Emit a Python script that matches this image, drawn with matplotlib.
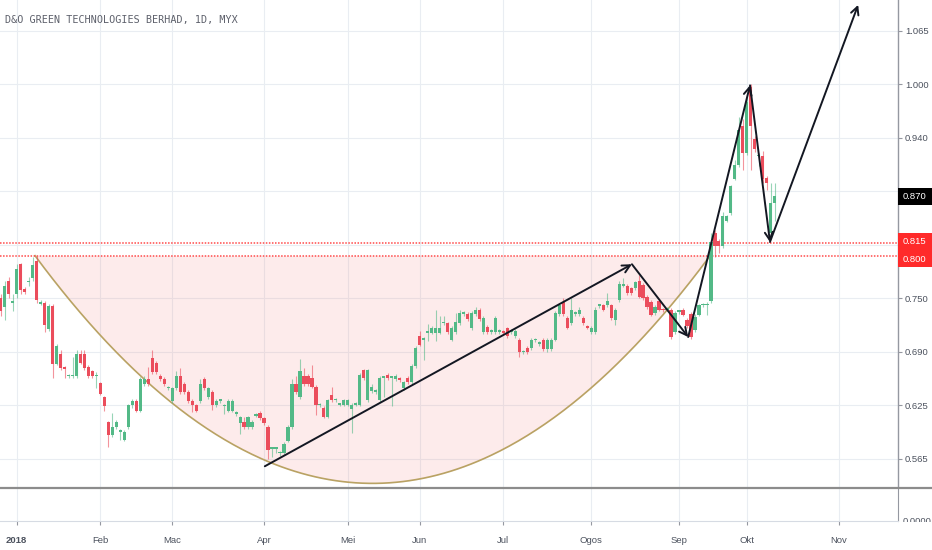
import numpy as np
import matplotlib
matplotlib.use("Agg")
import matplotlib.pyplot as plt
from matplotlib import font_manager
from matplotlib.patches import Rectangle
from matplotlib.lines import Line2D

# daily candles, Dec 2017 .. Oct 2018
opens = [0.750, 0.740, 0.770, 0.745, 0.755, 0.790, 0.761, 0.769, 0.774, 0.794,
         0.744, 0.745, 0.714, 0.741, 0.674, 0.685, 0.669, 0.659, 0.659, 0.659,
         0.685, 0.685, 0.670, 0.665, 0.659, 0.651, 0.635, 0.606, 0.590, 0.600,
         0.594, 0.585, 0.600, 0.625, 0.630, 0.619, 0.650, 0.656, 0.680, 0.675,
         0.660, 0.656, 0.645, 0.630, 0.645, 0.660, 0.650, 0.641, 0.630, 0.625,
         0.630, 0.656, 0.635, 0.641, 0.625, 0.630, 0.624, 0.619, 0.619, 0.615,
         0.604, 0.606, 0.600, 0.600, 0.613, 0.616, 0.610, 0.600, 0.574, 0.574,
         0.569, 0.570, 0.584, 0.600, 0.650, 0.635, 0.660, 0.660, 0.657, 0.647,
         0.625, 0.622, 0.612, 0.637, 0.631, 0.626, 0.626, 0.626, 0.621, 0.626,
         0.626, 0.666, 0.631, 0.642, 0.641, 0.631, 0.657, 0.661, 0.657, 0.656,
         0.656, 0.645, 0.657, 0.652, 0.671, 0.706, 0.702, 0.710, 0.710, 0.710,
         0.710, 0.721, 0.721, 0.702, 0.711, 0.721, 0.732, 0.732, 0.715, 0.732,
         0.737, 0.711, 0.717, 0.711, 0.711, 0.711, 0.711, 0.715, 0.711, 0.706,
         0.702, 0.687, 0.692, 0.692, 0.701, 0.697, 0.702, 0.691, 0.691, 0.702,
         0.732, 0.746, 0.727, 0.721, 0.732, 0.732, 0.727, 0.717, 0.711, 0.711,
         0.741, 0.742, 0.742, 0.742, 0.725, 0.748, 0.765, 0.765, 0.762, 0.762,
         0.771, 0.766, 0.752, 0.746, 0.733, 0.747, 0.737, 0.737, 0.737, 0.711,
         0.734, 0.737, 0.725, 0.732, 0.713, 0.731, 0.742, 0.742, 0.747, 0.826,
         0.817, 0.811, 0.841, 0.850, 0.890, 0.906, 0.952, 0.920, 0.997, 0.936,
         0.916, 0.916, 0.891, 0.826, 0.861]
highs = [0.755, 0.770, 0.775, 0.755, 0.790, 0.792, 0.764, 0.775, 0.799, 0.800,
         0.748, 0.747, 0.743, 0.743, 0.697, 0.690, 0.671, 0.662, 0.682, 0.690,
         0.690, 0.690, 0.672, 0.667, 0.664, 0.653, 0.636, 0.607, 0.616, 0.608,
         0.597, 0.596, 0.627, 0.632, 0.632, 0.658, 0.660, 0.670, 0.690, 0.677,
         0.662, 0.658, 0.648, 0.647, 0.665, 0.669, 0.652, 0.643, 0.632, 0.627,
         0.656, 0.658, 0.647, 0.643, 0.632, 0.633, 0.627, 0.632, 0.632, 0.618,
         0.613, 0.611, 0.613, 0.608, 0.616, 0.618, 0.612, 0.602, 0.577, 0.577,
         0.572, 0.582, 0.602, 0.656, 0.660, 0.679, 0.669, 0.662, 0.672, 0.649,
         0.628, 0.624, 0.633, 0.647, 0.634, 0.628, 0.633, 0.633, 0.628, 0.629,
         0.663, 0.668, 0.668, 0.650, 0.644, 0.659, 0.660, 0.663, 0.660, 0.662,
         0.658, 0.654, 0.659, 0.673, 0.694, 0.712, 0.705, 0.720, 0.718, 0.737,
         0.730, 0.730, 0.723, 0.718, 0.733, 0.737, 0.735, 0.734, 0.735, 0.740,
         0.739, 0.729, 0.719, 0.714, 0.729, 0.714, 0.713, 0.717, 0.714, 0.714,
         0.704, 0.690, 0.694, 0.704, 0.704, 0.700, 0.704, 0.704, 0.704, 0.735,
         0.744, 0.750, 0.729, 0.750, 0.735, 0.740, 0.729, 0.719, 0.718, 0.740,
         0.744, 0.744, 0.756, 0.744, 0.739, 0.770, 0.774, 0.767, 0.764, 0.771,
         0.777, 0.768, 0.754, 0.748, 0.742, 0.749, 0.739, 0.740, 0.739, 0.735,
         0.737, 0.739, 0.727, 0.734, 0.732, 0.744, 0.745, 0.746, 0.826, 0.830,
         0.819, 0.851, 0.848, 0.883, 0.912, 0.962, 0.960, 0.985, 1.001, 0.940,
         0.920, 0.922, 0.893, 0.885, 0.885]
lows = [0.730, 0.725, 0.750, 0.735, 0.750, 0.755, 0.755, 0.765, 0.770, 0.745,
        0.742, 0.711, 0.712, 0.657, 0.672, 0.667, 0.657, 0.657, 0.657, 0.657,
        0.673, 0.667, 0.657, 0.657, 0.646, 0.637, 0.618, 0.577, 0.588, 0.598,
        0.585, 0.583, 0.598, 0.622, 0.617, 0.617, 0.648, 0.648, 0.662, 0.662,
        0.654, 0.648, 0.643, 0.628, 0.643, 0.639, 0.639, 0.628, 0.617, 0.617,
        0.628, 0.643, 0.633, 0.620, 0.623, 0.628, 0.615, 0.617, 0.617, 0.613,
        0.592, 0.598, 0.598, 0.598, 0.611, 0.608, 0.602, 0.562, 0.565, 0.570,
        0.566, 0.568, 0.582, 0.598, 0.639, 0.633, 0.648, 0.648, 0.645, 0.614,
        0.623, 0.610, 0.610, 0.629, 0.629, 0.624, 0.624, 0.624, 0.593, 0.624,
        0.624, 0.655, 0.629, 0.640, 0.639, 0.629, 0.635, 0.655, 0.624, 0.654,
        0.653, 0.643, 0.650, 0.650, 0.669, 0.694, 0.678, 0.700, 0.708, 0.700,
        0.708, 0.719, 0.709, 0.700, 0.709, 0.719, 0.730, 0.724, 0.713, 0.730,
        0.724, 0.709, 0.709, 0.709, 0.709, 0.709, 0.708, 0.704, 0.709, 0.704,
        0.682, 0.685, 0.685, 0.690, 0.699, 0.695, 0.689, 0.688, 0.689, 0.700,
        0.730, 0.730, 0.714, 0.719, 0.730, 0.730, 0.719, 0.714, 0.709, 0.709,
        0.739, 0.735, 0.740, 0.725, 0.719, 0.746, 0.763, 0.754, 0.754, 0.760,
        0.750, 0.748, 0.738, 0.729, 0.731, 0.735, 0.734, 0.735, 0.703, 0.709,
        0.732, 0.729, 0.715, 0.703, 0.711, 0.729, 0.740, 0.731, 0.745, 0.799,
        0.803, 0.809, 0.839, 0.848, 0.888, 0.904, 0.900, 0.918, 0.900, 0.921,
        0.905, 0.885, 0.877, 0.822, 0.840]
closes = [0.735, 0.765, 0.755, 0.746, 0.785, 0.760, 0.758, 0.771, 0.789, 0.748,
          0.746, 0.719, 0.741, 0.674, 0.695, 0.669, 0.668, 0.661, 0.661, 0.685,
          0.675, 0.669, 0.659, 0.659, 0.660, 0.639, 0.624, 0.590, 0.600, 0.606,
          0.595, 0.594, 0.625, 0.630, 0.619, 0.656, 0.656, 0.650, 0.664, 0.664,
          0.656, 0.650, 0.646, 0.645, 0.660, 0.641, 0.641, 0.630, 0.625, 0.619,
          0.650, 0.645, 0.645, 0.625, 0.630, 0.631, 0.625, 0.630, 0.630, 0.616,
          0.611, 0.600, 0.611, 0.606, 0.614, 0.610, 0.604, 0.573, 0.575, 0.575,
          0.570, 0.580, 0.600, 0.650, 0.641, 0.665, 0.650, 0.650, 0.647, 0.626,
          0.626, 0.612, 0.631, 0.631, 0.632, 0.627, 0.631, 0.631, 0.626, 0.627,
          0.661, 0.657, 0.666, 0.647, 0.642, 0.657, 0.658, 0.657, 0.658, 0.660,
          0.655, 0.652, 0.652, 0.671, 0.692, 0.696, 0.703, 0.711, 0.716, 0.716,
          0.716, 0.722, 0.711, 0.716, 0.722, 0.733, 0.733, 0.726, 0.733, 0.737,
          0.726, 0.727, 0.711, 0.712, 0.727, 0.712, 0.710, 0.706, 0.712, 0.712,
          0.687, 0.688, 0.687, 0.702, 0.702, 0.698, 0.691, 0.702, 0.702, 0.733,
          0.742, 0.732, 0.716, 0.737, 0.733, 0.737, 0.721, 0.716, 0.716, 0.737,
          0.742, 0.737, 0.747, 0.727, 0.737, 0.767, 0.767, 0.756, 0.756, 0.769,
          0.752, 0.750, 0.740, 0.731, 0.740, 0.737, 0.736, 0.738, 0.705, 0.733,
          0.735, 0.731, 0.718, 0.705, 0.728, 0.742, 0.743, 0.743, 0.816, 0.811,
          0.811, 0.846, 0.846, 0.881, 0.906, 0.947, 0.920, 0.980, 0.951, 0.925,
          0.917, 0.890, 0.885, 0.861, 0.870]

month_labels = ["2018", "Feb", "Mac", "Apr", "Mei", "Jun", "Jul", "Ogos", "Sep", "Okt", "Nov"]
month_start_bar = [4, 25, 43, 66, 87, 105, 126, 148, 170, 187, 210]

price_ticks = [0.5625, 0.625, 0.6875, 0.75, 0.8125, 0.875, 0.9375, 1.0, 1.0625]
price_tick_labels = ["0.565", "0.625", "0.690", "0.750", "", "", "0.940", "1.000", "1.065"]

level_lines = [0.815, 0.800]
level_labels = ["0.815", "0.800"]
last_label = "0.870"

# cup drawing: two rim anchors and the depth of the arc
arc_left = (8.6, 0.800)
arc_right = (177.8, 0.800)
arc_bottom = 0.534

# drawn arrow path (bar, price)
arrow_path = [(66.2, 0.554), (158.2, 0.790), (172.3, 0.705),
              (187.8, 0.999), (192.8, 0.816), (214.9, 1.093)]

title = "D&O GREEN TECHNOLOGIES BERHAD, 1D, MYX"

names = {f.name for f in font_manager.fontManager.ttflist}
if "Liberation Sans Narrow" in names:
    AX_FONT, AX_FS = ["Liberation Sans Narrow", "DejaVu Sans"], 8.0
else:
    AX_FONT, AX_FS = ["Liberation Sans", "DejaVu Sans"], 6.8

UP, DOWN = "#53b987", "#eb4d5c"
GRID = "#e9edf2"
TXT = "#4c525e"

W, H = 932, 550
PR = 898          # right edge of plot area, px
BAR_PX = 3.99     # px per bar
X0_PX = 0.7       # px of bar 0
Y_TOP = 1.0987    # price at top edge
PX_PER_UNIT = 856.0


def bar_at(px):
    return (px - X0_PX) / BAR_PX


fig = plt.figure(figsize=(W / 100, H / 100), dpi=100)
ax = fig.add_axes([0, (H - 487) / H, PR / W, 487 / H])
lo = fig.add_axes([0, (H - 521) / H, PR / W, (521 - 489) / H])

xmin, xmax = bar_at(0), bar_at(PR)
for a in (ax, lo):
    a.set_xlim(xmin, xmax)
    a.set_facecolor("white")
    for x in month_start_bar:
        a.axvline(x, color=GRID, lw=0.8, zorder=0)

ax.set_ylim(Y_TOP - 487 / PX_PER_UNIT, Y_TOP)
for p in price_ticks:
    ax.axhline(p, color=GRID, lw=0.8, zorder=0)

# cup arc + fill
t = np.linspace(0, 1, 300)
arc_x = arc_left[0] + t * (arc_right[0] - arc_left[0])
arc_y = arc_left[1] - (arc_left[1] - arc_bottom) * (1 - (2 * t - 1) ** 2)
ax.fill_between(arc_x, arc_y, arc_left[1], color="#f57c7c", alpha=0.15, lw=0, zorder=1)
ax.plot(arc_x, arc_y, color="#b9a263", lw=1.2, zorder=2)

for lv in level_lines:
    ax.axhline(lv, color="#ff4a4a", lw=1.1, ls=(0, (1, 1)), zorder=2)

# candles
idx = np.arange(len(closes))
o = np.array(opens); c = np.array(closes)
hi = np.array(highs); lw_ = np.array(lows)
cols = np.where(c >= o, UP, DOWN)
ax.vlines(idx, lw_, hi, colors=cols, lw=0.8, alpha=0.6, zorder=3)
body_lo = np.minimum(o, c)
body_h = np.maximum(np.abs(c - o), 0.002)
ax.bar(idx, body_h, bottom=body_lo, width=0.8, color=cols, lw=0, zorder=4)

# arrows
for (x1, y1), (x2, y2) in zip(arrow_path[:-1], arrow_path[1:]):
    ax.annotate("", xy=(x2, y2), xytext=(x1, y1),
                arrowprops=dict(arrowstyle="->,head_length=0.55,head_width=0.28",
                                color="#131722", lw=1.4, shrinkA=0, shrinkB=0),
                zorder=6)

# right price scale
ax.yaxis.tick_right()
ax.set_yticks(price_ticks)
ax.set_yticklabels(price_tick_labels, family=AX_FONT, fontsize=AX_FS, color=TXT)
ax.tick_params(axis="y", length=3, width=0.8, color="#9598a1", pad=2)
ax.set_xticks([])
for s in ("top", "left", "bottom"):
    ax.spines[s].set_visible(False)
ax.spines["right"].set_color("#9598a1")
ax.spines["right"].set_linewidth(1.0)

# lower pane
lo.set_ylim(0, 1)
lo.set_yticks([])
lo.set_xticks(month_start_bar)
lo.set_xticklabels(month_labels, family=AX_FONT, fontsize=AX_FS, color=TXT)
lo.get_xticklabels()[0].set_fontweight("bold")
lo.tick_params(axis="x", length=3, width=0.8, color="#9598a1", pad=8)
for s in ("top", "left"):
    lo.spines[s].set_visible(False)
lo.spines["bottom"].set_color("#d6dbe3")
lo.spines["right"].set_color("#9598a1")

# pane separator
fig.add_artist(Line2D([0, 1], [1 - 487.5 / H] * 2, transform=fig.transFigure,
                      color="#8c8c8c", lw=1.6))


def box_label(y_px, h_px, text, face):
    fig.add_artist(Rectangle((PR / W, 1 - (y_px + h_px / 2) / H), 1 - PR / W, h_px / H,
                             transform=fig.transFigure, facecolor=face, edgecolor="none"))
    fig.text(903 / W, 1 - y_px / H, text, color="white", fontsize=AX_FS,
             family=AX_FONT, va="center", ha="left")


fig.add_artist(Rectangle((PR / W, 1 - 267 / H), 1 - PR / W, 34 / H,
                         transform=fig.transFigure, facecolor="#ff2a2a", edgecolor="none"))
fig.text(903 / W, 1 - 241 / H, level_labels[0], color="white", fontsize=AX_FS,
         family=AX_FONT, va="center", ha="left")
fig.text(903 / W, 1 - 259 / H, level_labels[1], color="white", fontsize=AX_FS,
         family=AX_FONT, va="center", ha="left")
box_label(196, 17, last_label, "#000000")

# cut-off volume scale value
fig.text(903 / W, 1 - 521 / H, "0.0000", color=TXT, fontsize=AX_FS, family=AX_FONT,
         va="center", ha="left")
fig.add_artist(Rectangle((PR / W + 0.001, 0), 1, 1 - 522 / H, transform=fig.transFigure,
                         facecolor="white", edgecolor="none", zorder=10))

fig.text(5 / W, 1 - 20 / H, title, family=["DejaVu Sans Mono"], fontsize=7.3,
         color="#5d606b", va="center", ha="left")

fig.savefig("out.png", dpi=100)
